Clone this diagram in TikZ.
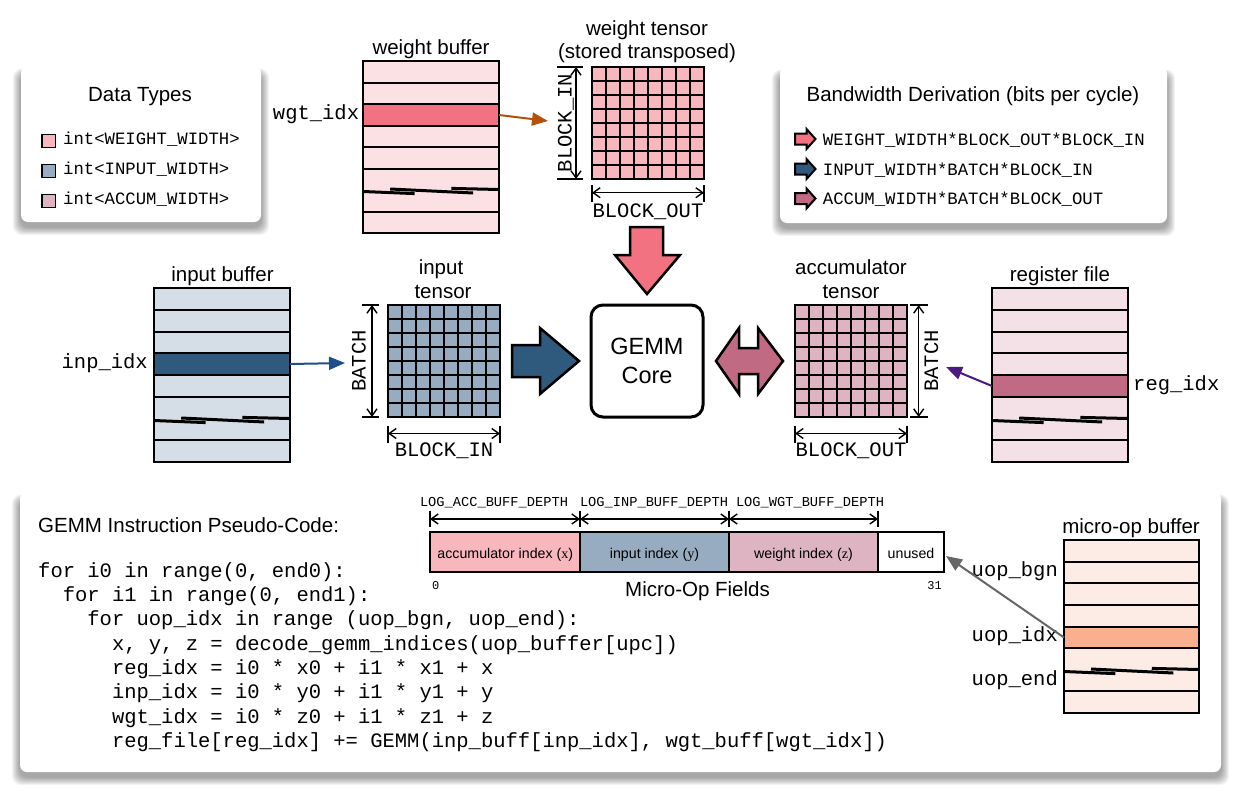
\documentclass[tikz,border=0pt]{standalone}
\usepackage{fontspec}
\setmainfont{Liberation Sans}
\newfontfamily\cour{Liberation Mono}
\newfontfamily\serf{Liberation Serif}
\usetikzlibrary{arrows.meta}

\definecolor{wlight}{HTML}{FCE1E4}
\definecolor{whi}{HTML}{F27282}
\definecolor{wcell}{HTML}{F8B6BD}
\definecolor{ilight}{HTML}{D5DEE6}
\definecolor{ihi}{HTML}{2F5A7E}
\definecolor{icell}{HTML}{97ACC0}
\definecolor{alight}{HTML}{F3E1E7}
\definecolor{ahi}{HTML}{C06A84}
\definecolor{acell}{HTML}{DEB4C3}
\definecolor{ulight}{HTML}{FDECE5}
\definecolor{uhi}{HTML}{F8B08F}
\definecolor{warrow}{HTML}{B5500B}
\definecolor{iarrow}{HTML}{1F4F8A}
\definecolor{parrow}{HTML}{4A1A7E}
\definecolor{garrow}{HTML}{666666}

\tikzset{
 lbl/.style={inner sep=0pt, font=\fontsize{20.5}{24}\selectfont},
 big/.style={font=\fontsize{23.5}{28.5}\selectfont, align=center},
 mono/.style={inner sep=0pt, font=\cour\fontsize{20.5}{24}\selectfont},
 legmono/.style={inner sep=0pt, font=\cour\fontsize{17.3}{20}\selectfont},
 smallmono/.style={inner sep=0pt, font=\cour\fontsize{13.7}{16}\selectfont},
 digit/.style={inner sep=0pt, font=\cour\fontsize{12}{14}\selectfont},
 field/.style={inner sep=0pt, font=\fontsize{14.2}{16}\selectfont},
 dimline/.style={line width=1.4pt, {Straight Barb[length=7pt,width=10pt]}-{Straight Barb[length=7pt,width=10pt]}},
 tickline/.style={line width=1.4pt},
 gridline/.style={line width=2pt},
 buf/.style={draw, line width=2pt, inner sep=0pt, outer sep=0pt, anchor=north west},
 blockarrow/.style={draw, line width=2.5pt, line join=miter},
 ptr/.style={line width=2pt, -{Triangle[length=16pt,width=13pt]}},
 panel/.style={fill=white, rounded corners=7pt, inner sep=0pt, outer sep=0pt},
 legsq/.style={draw, line width=1.5pt, minimum size=13.4pt, inner sep=0pt},
 squigline/.style={line width=3pt},
}

\newcommand{\softshadow}[4]{%
  \foreach \k in {1,...,9}{%
    \fill[black, opacity=0.045, rounded corners=9pt] ({#1-\k*0.9},{#2+8-\k*0.6}) rectangle ({#3+\k*0.9},{#4+5+\k*0.9});
  }}

\newcommand{\squig}[3]{% x0, y, w
  \draw[squigline] (#1,{#2+1.5}) -- ({#1+0.38*#3},{#2+3.6});
  \draw[squigline] ({#1+0.2*#3},{#2-1}) -- ({#1+0.81*#3},{#2+3});
  \draw[squigline] ({#1+0.65*#3},{#2-1.6}) -- ({#1+#3},{#2-0.5});
}

\newcommand{\membuf}[9]{% name, x0, y0, w, h, light, hi, hiIdx, squigline
  \pgfmathtruncatemacro\hitop{round(#3+#8*#5/8)}
  \pgfmathtruncatemacro\hibot{round(#3+(#8+1)*#5/8)}
  \pgfmathtruncatemacro\hih{\hibot-\hitop}
  \node[buf, fill=#6, minimum width=#4pt, minimum height=#5pt] (#1) at (#2,#3) {};
  \node[buf, fill=#7, minimum width=#4pt, minimum height=\hih pt] (#1hi) at (#2,\hitop) {};
  \foreach \i in {1,...,7}{%
    \pgfmathtruncatemacro\ly{round(#3+\i*#5/8)}
    \ifnum\i=#9\else
    \draw[gridline] (#2,\ly) -- ({#2+#4},\ly);
    \fi}
  \pgfmathtruncatemacro\sqy{round(#3+#9*#5/8)}
  \squig{#2}{\sqy}{#4}
}

\newcommand{\tensorgrid}[5]{% name, x0, y0, size, fill
  \node[buf, fill=#5, minimum width=#4pt, minimum height=#4pt] (#1) at (#2,#3) {};
  \foreach \i in {1,...,7}{%
    \draw[gridline] ({#2+\i*#4/8},#3) -- ({#2+\i*#4/8},{#3+#4});
    \draw[gridline] (#2,{#3+\i*#4/8}) -- ({#2+#4},{#3+\i*#4/8});
  }}

\begin{document}
\begin{tikzpicture}[x=1pt,y=-1pt]
\useasboundingbox (0,0) rectangle (1244,795);
\fill[white] (0,0) rectangle (1244,795);

% ---------- panels ----------
\softshadow{21}{66}{261}{222}
\node[panel, minimum width=240pt, minimum height=156pt] (dtpanel) at (141,144) {};
\softshadow{780}{67}{1167}{223}
\node[panel, minimum width=387pt, minimum height=156pt] (bwpanel) at (973.5,145) {};
\softshadow{20}{492}{1221}{772}
\node[panel, minimum width=1201pt, minimum height=280pt] (codepanel) at (620.5,632) {};

% ---------- Data Types legend ----------
\node[lbl, anchor=base] (dttitle) at (140,101) {Data Types};
\node[legsq, fill=wcell] (sq1) at (48.7,141) {};
\node[legsq, fill=icell] (sq2) at (48.7,171) {};
\node[legsq, fill=acell] (sq3) at (48.7,201) {};
\node[legmono, anchor=base west] (dt1) at (63,144.3) {int<WEIGHT\_WIDTH>};
\node[legmono, anchor=base west] (dt2) at (63,174.3) {int<INPUT\_WIDTH>};
\node[legmono, anchor=base west] (dt3) at (63,204.3) {int<ACCUM\_WIDTH>};

% ---------- Bandwidth legend ----------
\node[lbl, anchor=base] (bwtitle) at (973,101) {Bandwidth Derivation (bits per cycle)};
\foreach \yy/\cc in {139/whi, 169/ihi, 198.5/ahi}{%
  \draw[blockarrow, line width=2pt, fill=\cc] (795,\yy-5.5) -- (806.5,\yy-5.5) -- (806.5,\yy-10) -- (815.5,\yy) -- (806.5,\yy+10) -- (806.5,\yy+5.5) -- (795,\yy+5.5) -- cycle;
}
\node[legmono, anchor=base west] (bw1) at (822.7,145) {WEIGHT\_WIDTH*BLOCK\_OUT*BLOCK\_IN};
\node[legmono, anchor=base west] (bw2) at (822.7,175) {INPUT\_WIDTH*BATCH*BLOCK\_IN};
\node[legmono, anchor=base west] (bw3) at (822.7,204) {ACCUM\_WIDTH*BATCH*BLOCK\_OUT};

% ---------- weight buffer & tensor ----------
\node[lbl, anchor=base] (wbuftitle) at (431,54.3) {weight buffer};
\membuf{wbuf}{363}{61}{136}{172}{wlight}{whi}{2}{6}
\node[mono, anchor=base east] (wgtidx) at (359.3,119.3) {wgt\_idx};

\node[lbl, anchor=base] (wttitle1) at (647,35) {weight tensor};
\node[lbl, anchor=base] (wttitle2) at (647,58.3) {(stored transposed)};
\tensorgrid{wten}{592}{67}{112}{wcell}
\draw[tickline] (557,67) -- (583,67);
\draw[tickline] (557,179) -- (583,179);
\draw[dimline] (576,67) -- (576,179);
\node[mono, anchor=base, rotate=90] (wblockin) at (571.5,123) {BLOCK\_IN};
\draw[tickline] (592,185) -- (592,202);
\draw[tickline] (704,185) -- (704,202);
\draw[dimline] (592,192.7) -- (704,192.7);
\node[mono, anchor=base] (wblockout) at (648,217.3) {BLOCK\_OUT};

\coordinate (wtip) at (548,121);
\draw[ptr, draw=warrow, fill=warrow] (wbufhi.east) -- (wtip);

% ---------- input buffer & tensor ----------
\node[lbl, anchor=base] (ibuftitle) at (222.5,281.7) {input buffer};
\membuf{ibuf}{154}{288}{136}{174}{ilight}{ihi}{3}{6}
\node[mono, anchor=base east] (inpidx) at (148,368.6) {inp\_idx};

\node[lbl, anchor=base] (ittitle1) at (441,274) {input};
\node[lbl, anchor=base] (ittitle2) at (443,298.3) {tensor};
\tensorgrid{iten}{388}{305}{112}{icell}
\draw[tickline] (362.3,305) -- (379.3,305);
\draw[tickline] (362.3,417) -- (379.3,417);
\draw[dimline] (372,305) -- (372,417);
\node[mono, anchor=base, rotate=90] (ibatch) at (365.5,361) {BATCH};
\draw[tickline] (388,425.7) -- (388,442.7);
\draw[tickline] (500,425.7) -- (500,442.7);
\draw[dimline] (388,433.5) -- (500,433.5);
\node[mono, anchor=base] (iblockin) at (444,456.7) {BLOCK\_IN};

\coordinate (itip) at (345,363);
\draw[ptr, draw=iarrow, fill=iarrow] (ibufhi.east) -- (itip);

% ---------- GEMM core & block arrows ----------
\node[draw, line width=3pt, rounded corners=12pt, minimum width=112pt, minimum height=112pt, inner sep=0pt, big, fill=white] (core) at (647,361) {GEMM\\Core};
\draw[blockarrow, fill=whi] (630,227) -- (663,227) -- (663,255) -- (680,255) -- (647,294) -- (615,255) -- (630,255) -- cycle;
\draw[blockarrow, fill=ihi] (512,345) -- (540,345) -- (540,328) -- (579,361) -- (540,394) -- (540,377) -- (512,377) -- cycle;
\draw[blockarrow, fill=ahi] (716,361) -- (739,328) -- (739,348) -- (758,348) -- (758,328) -- (783,361) -- (758,394) -- (758,374) -- (739,374) -- (739,394) -- cycle;

% ---------- accumulator tensor & register file ----------
\node[lbl, anchor=base] (attitle1) at (851,274) {accumulator};
\node[lbl, anchor=base] (attitle2) at (851,298.3) {tensor};
\tensorgrid{aten}{795}{305}{112}{acell}
\draw[tickline] (910,305) -- (928,305);
\draw[tickline] (910,417) -- (928,417);
\draw[dimline] (918.7,305) -- (918.7,417);
\node[mono, anchor=base, rotate=90] (abatch) at (938,361) {BATCH};
\draw[tickline] (795,425.7) -- (795,442.7);
\draw[tickline] (907,425.7) -- (907,442.7);
\draw[dimline] (795,433.5) -- (907,433.5);
\node[mono, anchor=base] (ablockout) at (851,456.7) {BLOCK\_OUT};

\node[lbl, anchor=base] (rbuftitle) at (1060,281.7) {register file};
\membuf{rbuf}{992}{288}{136}{174}{alight}{ahi}{4}{6}
\node[mono, anchor=base west] (regidx) at (1133,390.2) {reg\_idx};
\coordinate (rtip) at (946,367);
\draw[ptr, draw=parrow, fill=parrow] (rbufhi.west) -- (rtip);

% ---------- pseudo-code ----------
\node[lbl, anchor=base west] (codetitle) at (38,532) {GEMM Instruction Pseudo-Code:};
\node[mono, anchor=base west] (c1) at (38,577) {for i0 in range(0, end0):};
\node[mono, anchor=base west] (c2) at (62.6,601.3) {for i1 in range(0, end1):};
\node[mono, anchor=base west] (c3) at (87.2,625.6) {for uop\_idx in range (uop\_bgn, uop\_end):};
\node[mono, anchor=base west] (c4) at (111.8,650) {x, y, z = decode\_gemm\_indices(uop\_buffer[upc])};
\node[mono, anchor=base west] (c5) at (111.8,674.3) {reg\_idx = i0 * x0 + i1 * x1 + x};
\node[mono, anchor=base west] (c6) at (111.8,698.6) {inp\_idx = i0 * y0 + i1 * y1 + y};
\node[mono, anchor=base west] (c7) at (111.8,723) {wgt\_idx = i0 * z0 + i1 * z1 + z};
\node[mono, anchor=base west] (c8) at (111.8,747.3) {reg\_file[reg\_idx] += GEMM(inp\_buff[inp\_idx], wgt\_buff[wgt\_idx])};

% ---------- micro-op fields ----------
\node[buf, fill=wcell, minimum width=150pt, minimum height=40pt] (facc) at (430,532) {};
\node[buf, fill=icell, minimum width=149pt, minimum height=40pt] (finp) at (580,532) {};
\node[buf, fill=acell, minimum width=149pt, minimum height=40pt] (fwgt) at (729,532) {};
\node[buf, fill=white, minimum width=66pt, minimum height=40pt] (funused) at (878,532) {};
\node[field, anchor=base] (taccf) at (505.3,558.3) {accumulator index ({\serf x})};
\node[field, anchor=base] (tinpf) at (654.5,558.3) {input index ({\serf y})};
\node[field, anchor=base] (twgtf) at (803.5,558.3) {weight index ({\serf z})};
\node[field, anchor=base] (tunused) at (911,558.3) {unused};

\foreach \xx in {430,580,729,878}{\draw[tickline] (\xx,510.7) -- (\xx,527.3);}
\draw[dimline] (430,519) -- (580,519);
\draw[dimline] (580,519) -- (729,519);
\draw[dimline] (729,519) -- (878,519);
\node[smallmono, anchor=base] (logacc) at (494,506) {LOG\_ACC\_BUFF\_DEPTH};
\node[smallmono, anchor=base] (loginp) at (654,506) {LOG\_INP\_BUFF\_DEPTH};
\node[smallmono, anchor=base] (logwgt) at (810,506) {LOG\_WGT\_BUFF\_DEPTH};
\node[digit, anchor=base] (bit0) at (435.7,589) {0};
\node[digit, anchor=base] (bit31) at (934.6,589) {31};
\node[lbl, anchor=base] (mftitle) at (697.5,596.7) {Micro-Op Fields};

% ---------- micro-op buffer ----------
\node[lbl, anchor=base] (ubuftitle) at (1131,533.5) {micro-op buffer};
\membuf{ubuf}{1064}{540}{135}{173}{ulight}{uhi}{4}{6}
\node[mono, anchor=base east] (uopbgn) at (1058,576) {uop\_bgn};
\node[mono, anchor=base east] (uopidx) at (1058,641.7) {uop\_idx};
\node[mono, anchor=base east] (uopend) at (1058,685) {uop\_end};
\coordinate (utip) at (946,556);
\draw[ptr, draw=garrow, fill=garrow] (ubufhi.west) -- (utip);

\end{tikzpicture}
\end{document}
